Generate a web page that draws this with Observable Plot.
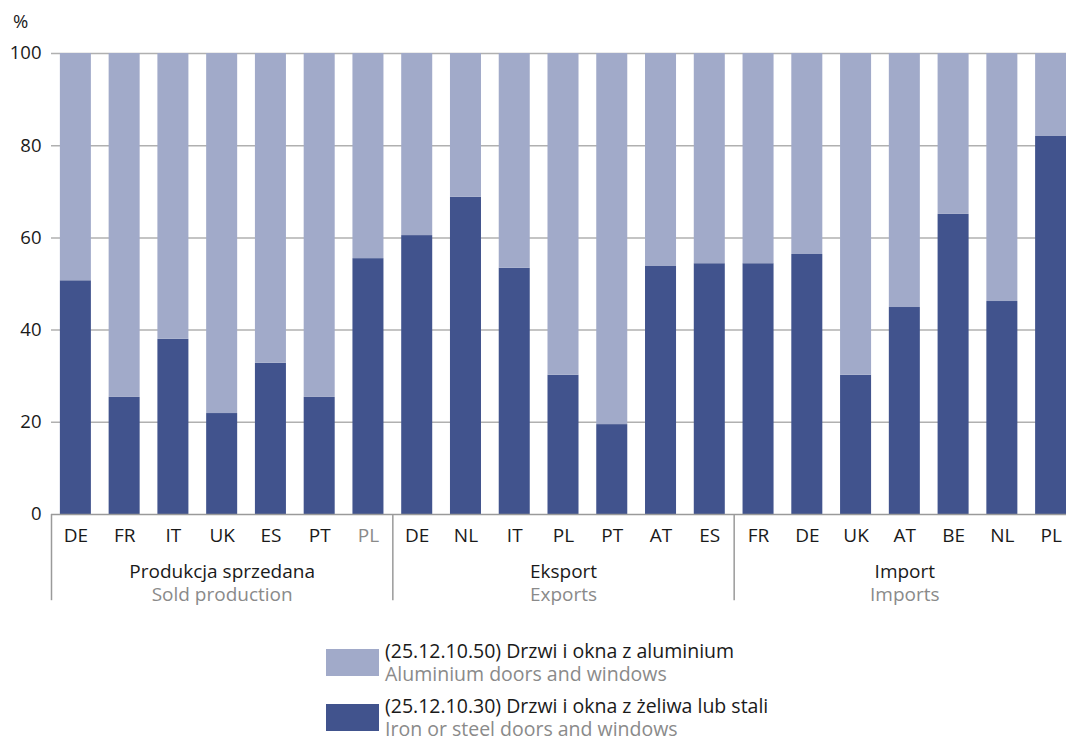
<!DOCTYPE html>
<html><head><meta charset="utf-8">
<script src="https://cdn.jsdelivr.net/npm/d3@7"></script>
<script src="https://cdn.jsdelivr.net/npm/@observablehq/plot@0.6"></script>
<style>
html,body{margin:0;padding:0;background:#fff;overflow:hidden;width:1066px;height:738px}
body{font-family:"Open Sans",sans-serif;position:relative}
#chart{position:absolute;left:0;top:0;width:1076px}
#chart svg{max-width:none !important}
#unit{position:absolute;left:13px;top:8px;font-size:18.5px;color:#1a1a1a}
#legend{position:absolute;left:326px;top:639px}
.item{display:flex;align-items:center;margin-bottom:9px}
.sw{width:53px;height:27px;margin-right:6px;flex:none}
.t{font-size:19.5px;line-height:23px;color:#1a1a1a;white-space:nowrap}
.t .en{color:#8a8a8a}
</style></head><body><div id="chart"></div><div id="unit">%</div><div id="legend"></div>
<script>
// ---- data ----
const groupsPl = ["Produkcja sprzedana", "Eksport", "Import"];
const groupsEn = ["Sold production", "Exports", "Imports"];
const prodCountries = ["DE", "FR", "IT", "UK", "ES", "PT", "PL"];
const exportCountries = ["DE", "NL", "IT", "PL", "PT", "AT", "ES"];
const importCountries = ["FR", "DE", "UK", "AT", "BE", "NL", "PL"];
// share (%) of iron or steel doors and windows
const prodSteel = [50.7, 25.4, 38.0, 21.9, 32.8, 25.4, 55.5];
const exportSteel = [60.5, 68.8, 53.4, 30.2, 19.5, 53.8, 54.4];
const importSteel = [54.4, 56.4, 30.2, 44.9, 65.1, 46.2, 82.0];
const seriesPl = ["(25.12.10.30) Drzwi i okna z żeliwa lub stali", "(25.12.10.50) Drzwi i okna z aluminium"];
const seriesEn = ["Iron or steel doors and windows", "Aluminium doors and windows"];
const yTicks = [0, 20, 40, 60, 80, 100];
// ---- build table ----
const steelColor = "#41538d", aluColor = "#a1aac9";
const countries = [prodCountries, exportCountries, importCountries];
const steel = [prodSteel, exportSteel, importSteel];
const rows = [];
countries.forEach((cs, g) => cs.forEach((c, j) => {
  const i = g * cs.length + j;
  rows.push({i, g, country: c, series: seriesPl[0], value: steel[g][j]});
  rows.push({i, g, country: c, series: seriesPl[1], value: 100 - steel[g][j]});
}));
const labels = rows.filter(d => d.series === seriesPl[0]);
const groupRows = groupsPl.map((p, g) => ({pl: p, en: groupsEn[g], center: g * 7 + 3}));
const separators = [0, 7, 14].map(k => k - 0.5);
const hw = 0.318;
const black = "#1a1a1a", gray = "#8a8a8a";
const fam = "'Open Sans', sans-serif";

const chart = Plot.plot({
  width: 1076, height: 614,
  marginLeft: 51, marginRight: 1, marginTop: 53, marginBottom: 100,
  style: {fontFamily: fam, fontSize: "18.5px", color: black, overflow: "visible", background: "transparent"},
  x: {domain: [-0.5, 20.5], axis: null},
  y: {domain: [0, 100], axis: null},
  color: {domain: seriesPl, range: [steelColor, aluColor]},
  marks: [
    Plot.ruleY(yTicks.slice(1), {stroke: "#b0b0b0", strokeWidth: 1.5}),
    Plot.rectY(rows, {x1: d => d.i - hw, x2: d => d.i + hw, y: "value", fill: "series"}),
    Plot.ruleY([0], {stroke: "#9a9a9a", strokeWidth: 1.5}),
    Plot.ruleX(separators, {y1: 0, y2: -18.7, stroke: "#9a9a9a", strokeWidth: 1.5}),
    Plot.axisY({ticks: yTicks, tickSize: 0, tickPadding: 10, label: null, fontSize: 18.5}),
    Plot.text(labels.filter(d => !(d.g === 0 && d.country === "PL")), {x: "i", y: 0, text: "country", dy: 21, fill: black, fontSize: 19}),
    Plot.text(labels.filter(d => d.g === 0 && d.country === "PL"), {x: "i", y: 0, text: "country", dy: 21, fill: gray, fontSize: 19}),
    Plot.text(groupRows, {x: "center", y: 0, text: "pl", dy: 57, fill: black, fontSize: 19}),
    Plot.text(groupRows, {x: "center", y: 0, text: "en", dy: 80, fill: gray, fontSize: 19})
  ]
});
document.getElementById("chart").appendChild(chart);

const legend = document.getElementById("legend");
[[1, aluColor], [0, steelColor]].forEach(([k, col]) => {
  const it = document.createElement("div");
  it.className = "item";
  it.innerHTML = `<div class="sw" style="background:${col}"></div><div class="t"><div>${seriesPl[k]}</div><div class="en">${seriesEn[k]}</div></div>`;
  legend.appendChild(it);
});
</script></body></html>
